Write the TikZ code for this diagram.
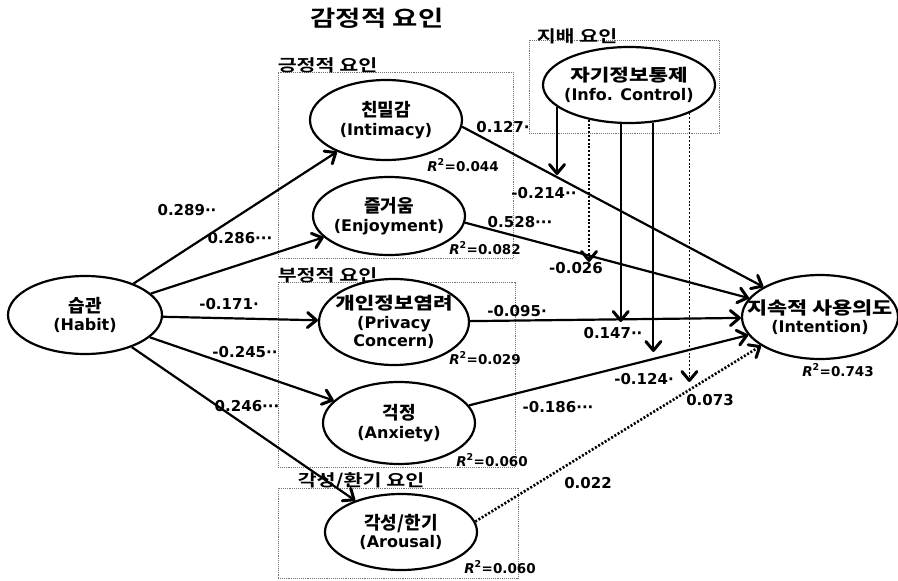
\documentclass[tikz,border=0pt]{standalone}
\usepackage{fontspec}
\setmainfont{DejaVu Sans}
\newfontfamily\krfont{Noto Sans CJK KR Bold}
\newfontfamily\krwide{Noto Sans CJK KR Bold}[FakeStretch=1.25]
\usetikzlibrary{shapes.geometric,arrows.meta}

\begin{document}
\begin{tikzpicture}[x=1pt, y=-1pt, >={Straight Barb[length=9pt,width=15pt,line width=3pt,round]}, font=\bfseries]
		\tikzstyle{latent} = [draw, ellipse, line width=2.2pt, fill=white, inner xsep=-30pt, inner ysep=0pt, align=center, font=\bfseries\fontsize{16}{18.5}\selectfont]
		\tikzstyle{group} = [draw=black!55, densely dotted, line width=0.9pt, inner sep=0pt]
		\tikzstyle{grouplabel} = [font=\krwide\fontsize{16.5}{18}\selectfont, inner sep=0pt, anchor=south west]
		\tikzstyle{coef} = [font=\bfseries\fontsize{15}{17}\selectfont, inner sep=0pt]
		\tikzstyle{rsq} = [font=\bfseries\fontsize{13.5}{15}\selectfont, inner sep=0pt]
		\tikzstyle{effect} = [->, line width=2.2pt]
		\tikzstyle{weak} = [dash pattern=on 2pt off 1.8pt]

		\useasboundingbox (0,0) rectangle (898,581);

		% factor groups
		\path
		node[group, minimum width=235, minimum height=186] (posbox) at (395.5,165) {}
		node[group, minimum width=237, minimum height=185] (negbox) at (396.5,374.5) {}
		node[group, minimum width=240, minimum height=90] (arobox) at (398,533) {}
		node[group, minimum width=190, minimum height=93] (dombox) at (624,86.5) {}
		node[font=\krwide\fontsize{22}{24}\selectfont] (title) at (377,18) {감정적 요인}
		node[grouplabel] (poslabel) at ([yshift=-2pt]posbox.north west) {긍정적 요인}
		node[grouplabel] (neglabel) at ([yshift=-2pt]negbox.north west) {부정적 요인}
		node[grouplabel] (arolabel) at ([xshift=20pt, yshift=-2pt]arobox.north west) {각성/환기 요인}
		node[grouplabel] (domlabel) at ([xshift=8pt, yshift=-5pt]dombox.north west) {지배 요인}
		;

		% constructs
		\path
		node[latent, minimum width=154, minimum height=78] (habit) at (85,315) {{\krfont\fontsize{18}{18.5}\selectfont 습관}\\(Habit)}
		node[latent, minimum width=152, minimum height=80] (intim) at (386,120) {{\krfont\fontsize{18}{18.5}\selectfont 친밀감}\\(Intimacy)}
		node[latent, minimum width=152, minimum height=78] (enjoy) at (389,216) {{\krfont\fontsize{18}{18.5}\selectfont 즐거움}\\(Enjoyment)}
		node[latent, minimum width=150, minimum height=86] (priv) at (394,322) {{\krwide\fontsize{17}{18.5}\selectfont 개인정보염려}\\(Privacy\\Concern)}
		node[latent, minimum width=152, minimum height=82] (anx) at (399,423) {{\krfont\fontsize{18}{18.5}\selectfont 걱정}\\(Anxiety)}
		node[latent, minimum width=152, minimum height=76] (aro) at (401,532) {{\krfont\fontsize{18}{18.5}\selectfont 각성/한기}\\(Arousal)}
		node[latent, minimum width=156, minimum height=84] (inten) at (820,317) {{\krwide\fontsize{17.5}{18.5}\selectfont 지속적 사용의도}\\(Intention)}
		node[latent, minimum width=172, minimum height=76] (ctrl) at (629,85) {{\krwide\fontsize{17}{18.5}\selectfont 자기정보통제}\\(Info. Control)}
		;

		% ends of the moderating arrows
		\coordinate (m1) at (558,175);
		\coordinate (m2) at (590,262);
		\coordinate (m3) at (621,322);
		\coordinate (m4) at (653,352);
		\coordinate (m5) at (688,382);

		\path[effect]
		(habit) edge (intim)
		(habit) edge (enjoy)
		(habit) edge (priv)
		(habit) edge (anx)
		(habit) edge (aro)
		(intim.-5) edge (inten)
		(enjoy.-5) edge (inten)
		(priv) edge (inten)
		(anx) edge (inten)
		(aro.8) edge[weak, line width=2.6pt] (inten.206)
		(ctrl.197) edge (ctrl.197 |- m1)
		(ctrl.221) edge[weak, line width=1.8pt] (ctrl.221 |- m2)
		(ctrl.258) edge (ctrl.258 |- m3)
		(ctrl.303) edge (ctrl.303 |- m4)
		(ctrl.335) edge[weak, line width=1.8pt] (ctrl.335 |- m5)
		;

		% path coefficients
		\path
		node[coef] (cint) at (187,210) {0.289··}
		node[coef] (cenj) at (240,238) {0.286···}
		node[coef] (cpriv) at (229,304) {-0.171·}
		node[coef] (canx) at (245,352) {-0.245··}
		node[coef] (caro) at (247,406) {0.246···}
		node[coef] (dint) at (503,127) {0.127·}
		node[coef] (dm1) at (544,193) {-0.214··}
		node[coef] (denj) at (520,222) {0.528···}
		node[coef] (dm2) at (576,268) {-0.026}
		node[coef] (dpriv) at (517,311) {-0.095·}
		node[coef] (dm3) at (613,333) {0.147··}
		node[coef] (dm4) at (644,379) {-0.124·}
		node[coef] (dm5) at (710,400) {0.073}
		node[coef] (danx) at (558,407) {-0.186···}
		node[coef] (daro) at (588,483) {0.022}
		;

		% explained variance
		\path
		node[rsq] (rint) at (463,165) {{\itshape R}\textsuperscript{2}=0.044}
		node[rsq] (renj) at (485,248) {{\itshape R}\textsuperscript{2}=0.082}
		node[rsq] (rpriv) at (485,358) {{\itshape R}\textsuperscript{2}=0.029}
		node[rsq] (ranx) at (492,460) {{\itshape R}\textsuperscript{2}=0.060}
		node[rsq] (raro) at (500,567) {{\itshape R}\textsuperscript{2}=0.060}
		node[rsq] (rinten) at (838,370) {{\itshape R}\textsuperscript{2}=0.743}
		;
\end{tikzpicture}
\end{document}
